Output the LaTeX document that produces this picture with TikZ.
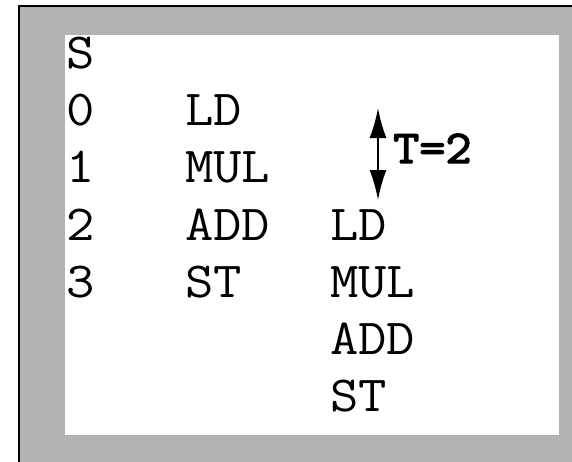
\documentclass[tikz,border=0pt]{standalone}
\usepackage{fontspec}
\newfontfamily\codefont[FakeStretch=1.09]{Latin Modern Mono}
\newfontfamily\codebold[FakeStretch=1.08,FakeBold=3]{Latin Modern Mono}
\usetikzlibrary{arrows.meta}
\definecolor{panelgray}{HTML}{B3B3B3}
\tikzset{
  cell/.style={anchor=base west, inner sep=0pt, font=\codefont\fontsize{50.5}{50.5}\selectfont},
  boldlabel/.style={anchor=base west, inner sep=0pt, font=\codebold\fontsize{47}{47}\selectfont},
  span/.style={line width=2pt, {Latex[length=30pt,width=17pt]}-{Latex[length=30pt,width=17pt]}}
}
\begin{document}
\begin{tikzpicture}[x=1pt,y=-1pt]
\useasboundingbox (0,0) rectangle (572,461);
\clip (0,0) rectangle (572,461);
% outer gray panel with black frame (extends past the right and bottom edges)
\fill[panelgray] (19,6) rectangle (580,470);
\draw[line width=2pt] (19,470) -- (19,6) -- (580,6);
% white sheet
\fill[white] (65,35) rectangle (559,435);
% step column
\node[cell] (s)  at (66,68)    {S};
\node[cell] (r0) at (66,125.5) {0};
\node[cell] (r1) at (66,182.5) {1};
\node[cell] (r2) at (66,240.5) {2};
\node[cell] (r3) at (66,297.5) {3};
% first iteration
\node[cell] (a0) at (185,125.5) {LD};
\node[cell] (a1) at (185,182.5) {MUL};
\node[cell] (a2) at (185,240.5) {ADD};
\node[cell] (a3) at (185,297.5) {ST};
% second iteration
\node[cell] (b0) at (330,240.5) {LD};
\node[cell] (b1) at (330,297.5) {MUL};
\node[cell] (b2) at (330,354.5) {ADD};
\node[cell] (b3) at (330,411.5) {ST};
% initiation interval
\coordinate (ttop) at (378,108);
\coordinate (tbot) at (378,200);
\draw[span] (ttop) -- (tbot);
\node[boldlabel] (t) at (393,163) {T=2};
\end{tikzpicture}
\end{document}
